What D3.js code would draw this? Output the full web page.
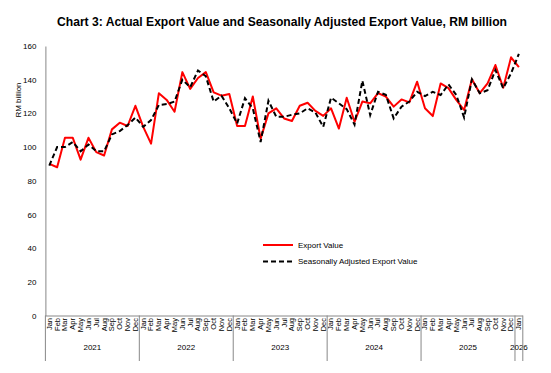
<!DOCTYPE html>
<html>
<head>
<meta charset="utf-8">
<script src="https://cdn.jsdelivr.net/npm/d3@7"></script>
<style>
  body { margin: 0; background: #fff; }
  text { font-family: "Liberation Sans", Arial, sans-serif; fill: #000; }
</style>
</head>
<body>
<div id="chart"></div>
<script>
// month / year categories
var monthNames = ['Jan','Feb','Mar','Apr','May','Jun','Jul','Aug','Sep','Oct','Nov','Dec'];
var years = [2021, 2022, 2023, 2024, 2025, 2026];
var monthsInYear = [12, 12, 12, 12, 12, 1];

// RM billion
var exportValue = [
    90, 88, 105.5, 105.5, 92.5, 105.5, 97, 95, 110.5, 114.5, 112.5, 124.5,
    112, 102, 132, 128, 121, 144.5, 134.5, 141, 144.5, 132.5, 130.5, 131.5,
    112.5, 112.5, 130, 105, 120, 123, 117, 115.5, 124.5, 126.3, 121.5, 118.5,
    123, 111, 129.3, 115, 127, 126, 132, 130, 124, 128.3, 126.5, 138.8,
    123, 118.4, 137.8, 135, 128, 122, 140.2, 132, 137.8, 148.7, 135.2, 153.3,
    147.4
];
var seasonallyAdjusted = [
    89, 100, 100, 103, 97.5, 101.5, 97.5, 97.5, 107.5, 109.5, 113, 117.5,
    112, 116, 125, 125.5, 127, 140, 135.5, 145.5, 142, 127, 130.5, 123,
    114, 129, 123, 103, 127.5, 118, 118, 119.2, 120, 123, 120.5, 112,
    129.3, 126, 122.5, 113.3, 139.4, 119, 132.8, 131, 117, 124, 127, 132.8,
    130.3, 132.8, 130.9, 137.2, 130.9, 117.6, 140.2, 131.9, 133.8, 145.7, 134.9, 143.8,
    155.3
];
var yTicks = [0, 20, 40, 60, 80, 100, 120, 140, 160];

var categories = [];
years.forEach(function(y, yi) {
    for (var m = 0; m < monthsInYear[yi]; m++) {
        categories.push({ key: y + '-' + m, year: y, month: monthNames[m] });
    }
});

var width = 551, height = 373;
var plotLeft = 45.4, plotRight = 522.8, plotTop = 46, plotBottom = 315.5;

var svg = d3.select('#chart').append('svg').attr('width', width).attr('height', height);

var x = d3.scaleBand().domain(categories.map(function(d){ return d.key; })).range([plotLeft, plotRight]).padding(0);
var y = d3.scaleLinear().domain([0, 160]).range([plotBottom, plotTop]);

// title
svg.append('text')
    .attr('x', 57).attr('y', 25.5)
    .attr('textLength', 450).attr('lengthAdjust', 'spacingAndGlyphs')
    .style('font-size', '13px').style('font-weight', 'bold')
    .text('Chart 3: Actual Export Value and Seasonally Adjusted Export Value, RM billion');

// y axis
var yAxis = svg.append('g')
    .attr('transform', 'translate(' + plotLeft + ',0)')
    .call(d3.axisLeft(y).tickValues(yTicks).tickSize(0).tickPadding(9));
yAxis.select('.domain').attr('stroke', '#888');
yAxis.selectAll('text').style('font-size', '8px').style('font-family', '"Liberation Sans", Arial, sans-serif');

svg.append('text')
    .attr('transform', 'translate(21,100) rotate(-90)')
    .attr('text-anchor', 'middle')
    .style('font-size', '8px')
    .text('RM billion');

// x axis: months
var xAxis = svg.append('g')
    .attr('transform', 'translate(0,' + plotBottom + ')')
    .call(d3.axisBottom(x).tickSize(0).tickFormat(function(k, i){ return categories[i].month; }));
xAxis.select('.domain').attr('stroke', '#888').attr('d', 'M' + plotLeft + ',0.5H' + plotRight);
xAxis.selectAll('text')
    .attr('transform', 'rotate(-90)')
    .attr('x', -2.5).attr('y', 0).attr('dy', '0.32em')
    .attr('text-anchor', 'end')
    .style('font-size', '7.5px').style('font-family', '"Liberation Sans", Arial, sans-serif');

// year separators and labels
var start = 0;
years.forEach(function(yr, yi) {
    var first = categories[start].key;
    var last = categories[start + monthsInYear[yi] - 1].key;
    var x0 = x(first), x1 = x(last) + x.bandwidth();
    svg.append('line')
        .attr('x1', x0).attr('x2', x0).attr('y1', plotBottom).attr('y2', 361)
        .attr('stroke', '#888').attr('stroke-width', 1);
    svg.append('text')
        .attr('x', (x0 + x1) / 2).attr('y', 349.5)
        .attr('text-anchor', 'middle')
        .style('font-size', '8px')
        .text(yr);
    start += monthsInYear[yi];
});
svg.append('line')
    .attr('x1', plotRight).attr('x2', plotRight).attr('y1', plotBottom).attr('y2', 361)
    .attr('stroke', '#888').attr('stroke-width', 1);

// lines
var line = d3.line()
    .x(function(d, i){ return x(categories[i].key) + x.bandwidth() / 2; })
    .y(function(d){ return y(d); });

svg.append('path')
    .datum(exportValue)
    .attr('d', line)
    .attr('fill', 'none').attr('stroke', '#ff0000').attr('stroke-width', 2)
    .attr('stroke-linejoin', 'round');

svg.append('path')
    .datum(seasonallyAdjusted)
    .attr('d', line)
    .attr('fill', 'none').attr('stroke', '#000').attr('stroke-width', 2)
    .attr('stroke-dasharray', '5,3');

// legend
var legend = [
    { label: 'Export Value', color: '#ff0000', dash: null },
    { label: 'Seasonally Adjusted Export Value', color: '#000', dash: '5,3' }
];
var lg = svg.append('g').attr('transform', 'translate(263,245)');
legend.forEach(function(d, i) {
    var g = lg.append('g').attr('transform', 'translate(0,' + (i * 16.5) + ')');
    g.append('line').attr('x1', 0).attr('x2', 30).attr('y1', 0).attr('y2', 0)
        .attr('stroke', d.color).attr('stroke-width', 2)
        .attr('stroke-dasharray', d.dash);
    g.append('text').attr('x', 35).attr('y', 0).attr('dy', '0.32em')
        .style('font-size', '8px').text(d.label);
});
</script>
</body>
</html>
